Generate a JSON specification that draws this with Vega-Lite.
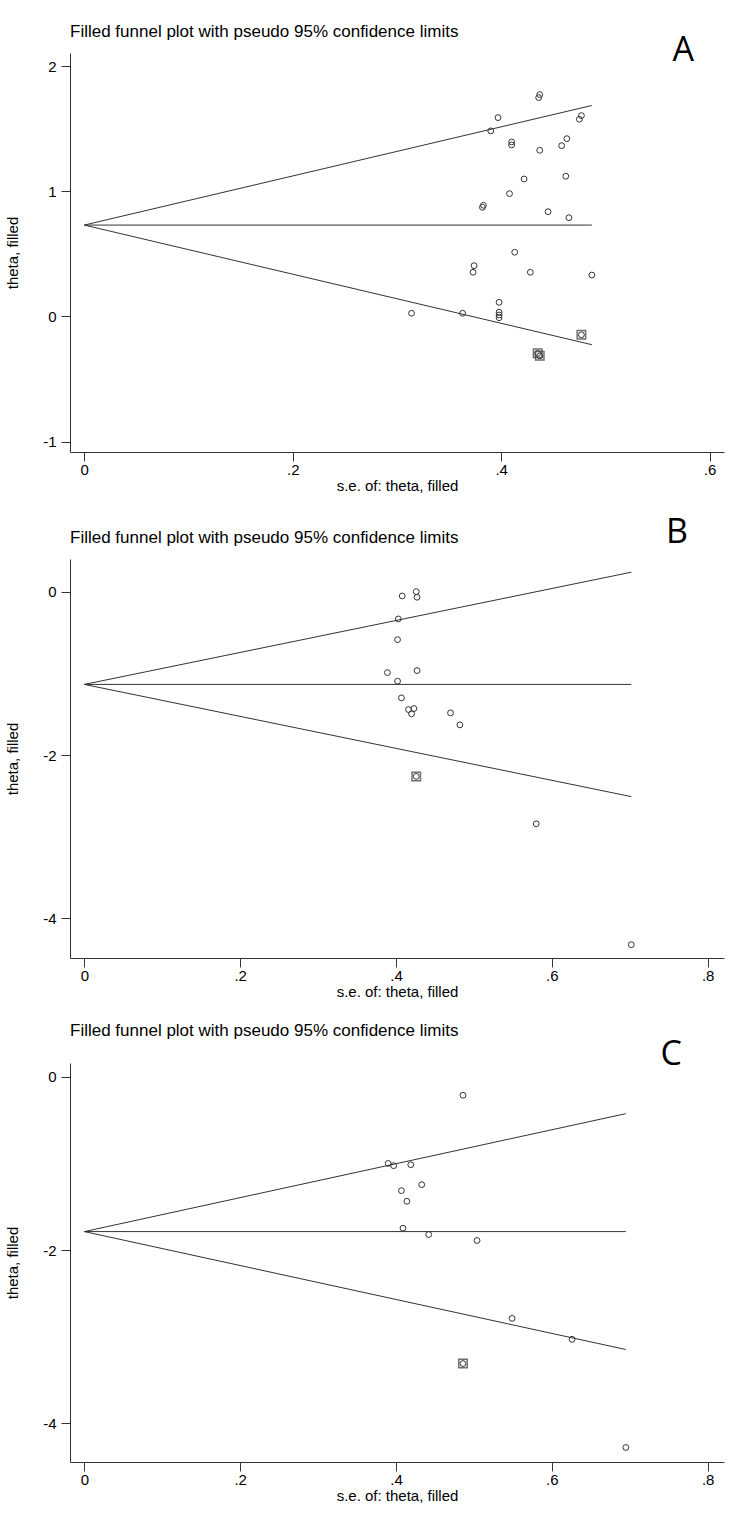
{
  "$schema": "https://vega.github.io/schema/vega-lite/v6.json",
  "background": "white",
  "padding": {"left": 5, "top": 23, "right": 5, "bottom": 5},
  "spacing": 23,
  "config": {
    "view": {"stroke": null},
    "font": "Liberation Sans",
    "axis": {"grid": false, "domainColor": "#333", "tickColor": "#333", "tickSize": 9, "labelColor": "#000", "titleColor": "#000", "labelFontSize": 15, "titleFontSize": 15, "titleFontWeight": "normal", "labelFont": "Liberation Sans", "titleFont": "Liberation Sans"},
    "axisY": {"labelPadding": 5, "titlePadding": 22, "labelAngle": 0},
    "axisX": {"labelPadding": 1, "titlePadding": 1},
    "title": {"color": "#000", "fontWeight": "normal"}
  },
  "datasets": {
    "points": [
      {"panel": "A", "se": 0.437, "theta": 1.772, "filled": false},
      {"panel": "A", "se": 0.436, "theta": 1.748, "filled": false},
      {"panel": "A", "se": 0.397, "theta": 1.588, "filled": false},
      {"panel": "A", "se": 0.390, "theta": 1.482, "filled": false},
      {"panel": "A", "se": 0.477, "theta": 1.604, "filled": false},
      {"panel": "A", "se": 0.475, "theta": 1.575, "filled": false},
      {"panel": "A", "se": 0.410, "theta": 1.394, "filled": false},
      {"panel": "A", "se": 0.410, "theta": 1.370, "filled": false},
      {"panel": "A", "se": 0.437, "theta": 1.327, "filled": false},
      {"panel": "A", "se": 0.463, "theta": 1.420, "filled": false},
      {"panel": "A", "se": 0.458, "theta": 1.364, "filled": false},
      {"panel": "A", "se": 0.422, "theta": 1.098, "filled": false},
      {"panel": "A", "se": 0.462, "theta": 1.120, "filled": false},
      {"panel": "A", "se": 0.408, "theta": 0.981, "filled": false},
      {"panel": "A", "se": 0.383, "theta": 0.888, "filled": false},
      {"panel": "A", "se": 0.382, "theta": 0.872, "filled": false},
      {"panel": "A", "se": 0.445, "theta": 0.837, "filled": false},
      {"panel": "A", "se": 0.465, "theta": 0.789, "filled": false},
      {"panel": "A", "se": 0.413, "theta": 0.513, "filled": false},
      {"panel": "A", "se": 0.374, "theta": 0.406, "filled": false},
      {"panel": "A", "se": 0.373, "theta": 0.353, "filled": false},
      {"panel": "A", "se": 0.428, "theta": 0.353, "filled": false},
      {"panel": "A", "se": 0.487, "theta": 0.331, "filled": false},
      {"panel": "A", "se": 0.314, "theta": 0.026, "filled": false},
      {"panel": "A", "se": 0.363, "theta": 0.026, "filled": false},
      {"panel": "A", "se": 0.398, "theta": 0.113, "filled": false},
      {"panel": "A", "se": 0.398, "theta": 0.034, "filled": false},
      {"panel": "A", "se": 0.398, "theta": 0.012, "filled": false},
      {"panel": "A", "se": 0.398, "theta": -0.010, "filled": false},
      {"panel": "A", "se": 0.477, "theta": -0.146, "filled": true},
      {"panel": "A", "se": 0.435, "theta": -0.294, "filled": true},
      {"panel": "A", "se": 0.437, "theta": -0.314, "filled": true},
      {"panel": "B", "se": 0.408, "theta": -0.049, "filled": false},
      {"panel": "B", "se": 0.426, "theta": 0.004, "filled": false},
      {"panel": "B", "se": 0.427, "theta": -0.065, "filled": false},
      {"panel": "B", "se": 0.403, "theta": -0.331, "filled": false},
      {"panel": "B", "se": 0.402, "theta": -0.585, "filled": false},
      {"panel": "B", "se": 0.389, "theta": -0.989, "filled": false},
      {"panel": "B", "se": 0.427, "theta": -0.964, "filled": false},
      {"panel": "B", "se": 0.402, "theta": -1.094, "filled": false},
      {"panel": "B", "se": 0.407, "theta": -1.299, "filled": false},
      {"panel": "B", "se": 0.416, "theta": -1.442, "filled": false},
      {"panel": "B", "se": 0.423, "theta": -1.430, "filled": false},
      {"panel": "B", "se": 0.420, "theta": -1.495, "filled": false},
      {"panel": "B", "se": 0.470, "theta": -1.483, "filled": false},
      {"panel": "B", "se": 0.482, "theta": -1.630, "filled": false},
      {"panel": "B", "se": 0.580, "theta": -2.843, "filled": false},
      {"panel": "B", "se": 0.702, "theta": -4.326, "filled": false},
      {"panel": "B", "se": 0.426, "theta": -2.262, "filled": true},
      {"panel": "C", "se": 0.486, "theta": -0.211, "filled": false},
      {"panel": "C", "se": 0.390, "theta": -0.999, "filled": false},
      {"panel": "C", "se": 0.397, "theta": -1.025, "filled": false},
      {"panel": "C", "se": 0.419, "theta": -1.014, "filled": false},
      {"panel": "C", "se": 0.433, "theta": -1.244, "filled": false},
      {"panel": "C", "se": 0.407, "theta": -1.313, "filled": false},
      {"panel": "C", "se": 0.414, "theta": -1.436, "filled": false},
      {"panel": "C", "se": 0.409, "theta": -1.747, "filled": false},
      {"panel": "C", "se": 0.442, "theta": -1.820, "filled": false},
      {"panel": "C", "se": 0.504, "theta": -1.889, "filled": false},
      {"panel": "C", "se": 0.549, "theta": -2.788, "filled": false},
      {"panel": "C", "se": 0.626, "theta": -3.030, "filled": false},
      {"panel": "C", "se": 0.695, "theta": -4.280, "filled": false},
      {"panel": "C", "se": 0.486, "theta": -3.310, "filled": true}
    ],
    "funnel": [
      {"panel": "A", "se0": 0, "theta0": 0.73, "se1": 0.487, "theta1": 1.685},
      {"panel": "A", "se0": 0, "theta0": 0.73, "se1": 0.487, "theta1": 0.73},
      {"panel": "A", "se0": 0, "theta0": 0.73, "se1": 0.487, "theta1": -0.225},
      {"panel": "B", "se0": 0, "theta0": -1.134, "se1": 0.702, "theta1": 0.242},
      {"panel": "B", "se0": 0, "theta0": -1.134, "se1": 0.702, "theta1": -1.134},
      {"panel": "B", "se0": 0, "theta0": -1.134, "se1": 0.702, "theta1": -2.510},
      {"panel": "C", "se0": 0, "theta0": -1.786, "se1": 0.695, "theta1": -0.424},
      {"panel": "C", "se0": 0, "theta0": -1.786, "se1": 0.695, "theta1": -1.786},
      {"panel": "C", "se0": 0, "theta0": -1.786, "se1": 0.695, "theta1": -3.148}
    ]
  },
  "vconcat": [
    {
      "title": {"text": "A", "anchor": "end", "fontSize": 34, "font": "Open Sans", "dx": -30, "dy": 49},
      "vconcat": [
        {
          "width": 654,
          "height": 399,
          "title": {"text": "Filled funnel plot with pseudo 95% confidence limits", "anchor": "start", "frame": "group", "fontSize": 17, "offset": 12},
          "layer": [
            {
              "data": {"name": "funnel"},
              "transform": [{"filter": "datum.panel === 'A'"}],
              "mark": {"type": "rule", "color": "#333", "strokeWidth": 1},
              "encoding": {
                "x": {"field": "se0", "type": "quantitative", "scale": {"domain": [-0.0137, 0.6138], "nice": false, "zero": false}, "axis": {"values": [0, 0.2, 0.4, 0.6], "labelExpr": "datum.value === 0 ? '0' : substring(format(datum.value, '.1f'), 1)"}, "title": "s.e. of: theta, filled"},
                "y": {"field": "theta0", "type": "quantitative", "scale": {"domain": [-1.082, 2.104], "nice": false, "zero": false}, "axis": {"values": [-1, 0, 1, 2], "labelExpr": "toString(datum.value)"}, "title": "theta, filled"},
                "x2": {"field": "se1"},
                "y2": {"field": "theta1"}
              }
            },
            {
              "data": {"name": "points"},
              "transform": [{"filter": "datum.panel === 'A' && datum.filled"}],
              "mark": {"type": "point", "shape": "square", "size": 72, "color": "#333", "strokeWidth": 1.5, "filled": false},
              "encoding": {
                "x": {"field": "se", "type": "quantitative", "scale": {"domain": [-0.0137, 0.6138], "nice": false, "zero": false}, "title": "s.e. of: theta, filled"},
                "y": {"field": "theta", "type": "quantitative", "scale": {"domain": [-1.082, 2.104], "nice": false, "zero": false}, "title": "theta, filled"}
              }
            },
            {
              "data": {"name": "points"},
              "transform": [{"filter": "datum.panel === 'A'"}],
              "mark": {"type": "point", "shape": "circle", "size": 34, "color": "#333", "strokeWidth": 1, "filled": false, "opacity": 1},
              "encoding": {
                "x": {"field": "se", "type": "quantitative", "scale": {"domain": [-0.0137, 0.6138], "nice": false, "zero": false}, "title": "s.e. of: theta, filled"},
                "y": {"field": "theta", "type": "quantitative", "scale": {"domain": [-1.082, 2.104], "nice": false, "zero": false}, "title": "theta, filled"}
              }
            }
          ]
        }
      ]
    },
    {
      "title": {"text": "B", "anchor": "end", "fontSize": 34, "font": "Open Sans", "dx": -36, "dy": 25},
      "vconcat": [
        {
          "width": 654,
          "height": 399,
          "title": {"text": "Filled funnel plot with pseudo 95% confidence limits", "anchor": "start", "frame": "group", "fontSize": 17, "offset": 12},
          "layer": [
            {
              "data": {"name": "funnel"},
              "transform": [{"filter": "datum.panel === 'B'"}],
              "mark": {"type": "rule", "color": "#333", "strokeWidth": 1},
              "encoding": {
                "x": {"field": "se0", "type": "quantitative", "scale": {"domain": [-0.0184, 0.821], "nice": false, "zero": false}, "axis": {"values": [0, 0.2, 0.4, 0.6, 0.8], "labelExpr": "datum.value === 0 ? '0' : substring(format(datum.value, '.1f'), 1)"}, "title": "s.e. of: theta, filled"},
                "y": {"field": "theta0", "type": "quantitative", "scale": {"domain": [-4.489, 0.404], "nice": false, "zero": false}, "axis": {"values": [-4, -2, 0], "labelExpr": "toString(datum.value)"}, "title": "theta, filled"},
                "x2": {"field": "se1"},
                "y2": {"field": "theta1"}
              }
            },
            {
              "data": {"name": "points"},
              "transform": [{"filter": "datum.panel === 'B' && datum.filled"}],
              "mark": {"type": "point", "shape": "square", "size": 72, "color": "#333", "strokeWidth": 1.5, "filled": false},
              "encoding": {
                "x": {"field": "se", "type": "quantitative", "scale": {"domain": [-0.0184, 0.821], "nice": false, "zero": false}, "title": "s.e. of: theta, filled"},
                "y": {"field": "theta", "type": "quantitative", "scale": {"domain": [-4.489, 0.404], "nice": false, "zero": false}, "title": "theta, filled"}
              }
            },
            {
              "data": {"name": "points"},
              "transform": [{"filter": "datum.panel === 'B'"}],
              "mark": {"type": "point", "shape": "circle", "size": 34, "color": "#333", "strokeWidth": 1, "filled": false, "opacity": 1},
              "encoding": {
                "x": {"field": "se", "type": "quantitative", "scale": {"domain": [-0.0184, 0.821], "nice": false, "zero": false}, "title": "s.e. of: theta, filled"},
                "y": {"field": "theta", "type": "quantitative", "scale": {"domain": [-4.489, 0.404], "nice": false, "zero": false}, "title": "theta, filled"}
              }
            }
          ]
        }
      ]
    },
    {
      "title": {"text": "C", "anchor": "end", "fontSize": 34, "font": "Open Sans", "dx": -42, "dy": 54},
      "vconcat": [
        {
          "width": 654,
          "height": 399,
          "title": {"text": "Filled funnel plot with pseudo 95% confidence limits", "anchor": "start", "frame": "group", "fontSize": 17, "offset": 23},
          "layer": [
            {
              "data": {"name": "funnel"},
              "transform": [{"filter": "datum.panel === 'C'"}],
              "mark": {"type": "rule", "color": "#333", "strokeWidth": 1},
              "encoding": {
                "x": {"field": "se0", "type": "quantitative", "scale": {"domain": [-0.0184, 0.821], "nice": false, "zero": false}, "axis": {"values": [0, 0.2, 0.4, 0.6, 0.8], "labelExpr": "datum.value === 0 ? '0' : substring(format(datum.value, '.1f'), 1)"}, "title": "s.e. of: theta, filled"},
                "y": {"field": "theta0", "type": "quantitative", "scale": {"domain": [-4.447, 0.161], "nice": false, "zero": false}, "axis": {"values": [-4, -2, 0], "labelExpr": "toString(datum.value)"}, "title": "theta, filled"},
                "x2": {"field": "se1"},
                "y2": {"field": "theta1"}
              }
            },
            {
              "data": {"name": "points"},
              "transform": [{"filter": "datum.panel === 'C' && datum.filled"}],
              "mark": {"type": "point", "shape": "square", "size": 72, "color": "#333", "strokeWidth": 1.5, "filled": false},
              "encoding": {
                "x": {"field": "se", "type": "quantitative", "scale": {"domain": [-0.0184, 0.821], "nice": false, "zero": false}, "title": "s.e. of: theta, filled"},
                "y": {"field": "theta", "type": "quantitative", "scale": {"domain": [-4.447, 0.161], "nice": false, "zero": false}, "title": "theta, filled"}
              }
            },
            {
              "data": {"name": "points"},
              "transform": [{"filter": "datum.panel === 'C'"}],
              "mark": {"type": "point", "shape": "circle", "size": 34, "color": "#333", "strokeWidth": 1, "filled": false, "opacity": 1},
              "encoding": {
                "x": {"field": "se", "type": "quantitative", "scale": {"domain": [-0.0184, 0.821], "nice": false, "zero": false}, "title": "s.e. of: theta, filled"},
                "y": {"field": "theta", "type": "quantitative", "scale": {"domain": [-4.447, 0.161], "nice": false, "zero": false}, "title": "theta, filled"}
              }
            }
          ]
        }
      ]
    }
  ]
}
